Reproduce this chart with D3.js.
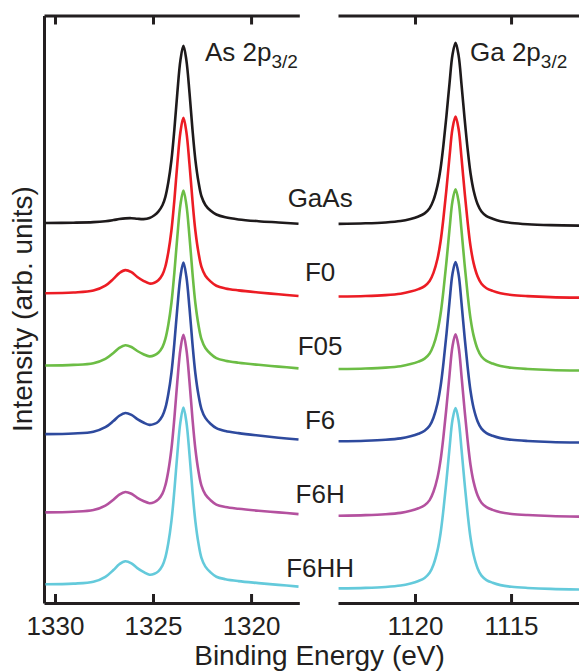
<!DOCTYPE html>
<html>
<head>
<meta charset="utf-8">
<script src="https://cdn.jsdelivr.net/npm/d3@7"></script>
<style>
  body { margin: 0; background: #fff; }
  svg { display: block; }
  text { font-family: "Liberation Sans", Arial, sans-serif; fill: #231f20; }
  .axis path, .axis line { stroke: #231f20; stroke-width: 3; }
</style>
</head>
<body>
<div id="chart"></div>
<script>
// series names and colours
var samples = ["GaAs", "F0", "F05", "F6", "F6H", "F6HH"];
var colors = ["#1e1a1b", "#ec1c24", "#6cbd45", "#2e4a9e", "#b4519f", "#64cadb"];

// binding energy grids (eV)
var asEnergy = [1330.49, 1329.06, 1328.04, 1327.43, 1327.02, 1326.72, 1326.41, 1326.10, 1325.80, 1325.49,
  1325.18, 1324.93, 1324.73, 1324.52, 1324.37, 1324.22, 1324.06, 1323.91, 1323.76, 1323.60,
  1323.45, 1323.30, 1323.14, 1322.99, 1322.84, 1322.68, 1322.53, 1322.33, 1322.07, 1321.77,
  1321.31, 1320.64, 1319.62, 1318.60, 1317.58];
var gaEnergy = [1123.98, 1122.58, 1121.54, 1120.75, 1120.23, 1119.82, 1119.50, 1119.24, 1119.04, 1118.83,
  1118.67, 1118.52, 1118.36, 1118.20, 1118.05, 1117.89, 1117.73, 1117.58, 1117.42, 1117.26,
  1117.11, 1116.95, 1116.74, 1116.54, 1116.28, 1115.96, 1115.55, 1114.97, 1114.14, 1112.94, 1111.46];

// As 2p3/2 intensity above each curve's own baseline (arb. units)
var asGaAs = [0, 0.16, 0.46, 0.98, 1.63, 2.21, 2.61, 2.71, 2.4, 2.2, 2.8, 4.4, 6.4, 10.0, 14.8, 23.0, 35.6, 53.0, 73.6, 92.2,
  100.2, 92.1, 73.7, 53.1, 35.7, 23.1, 15.1, 10.2, 7.0, 4.8, 3.2, 2.0, 1.0, 0.3, -0.4];
var asF0 = [0, 0.39, 1.46, 4.26, 8.09, 11.35, 13.05, 11.85, 9.19, 7.0, 5.45, 5.95, 7.3, 10.5, 15.1, 23.2, 35.6, 52.8, 73.1, 91.3,
  99.2, 91.2, 72.9, 52.6, 35.3, 22.8, 14.9, 9.9, 6.7, 4.2, 2.7, 1.6, 0.4, -0.6, -1.6];
var asF05 = [0, 0.36, 1.31, 3.77, 7.12, 9.98, 11.49, 10.48, 8.22, 6.41, 5.18, 5.78, 7.2, 10.4, 15.1, 23.1, 35.5, 52.7, 72.9, 91.1,
  99, 91, 72.8, 52.5, 35.2, 22.8, 14.9, 9.9, 6.7, 4.2, 2.7, 1.6, 0.4, -0.6, -1.6];
var asF6 = [0, 0.37, 1.36, 3.92, 7.42, 10.4, 11.97, 10.9, 8.52, 6.59, 5.26, 5.8, 7.1, 10.3, 14.8, 22.7, 34.8, 51.6, 71.4, 89.2,
  97, 89.1, 71.2, 51.3, 34.3, 22.0, 14.2, 9.2, 5.9, 3.4, 1.8, 0.6, -0.8, -2.0, -3.0];
var asF6H = [0, 0.36, 1.31, 3.77, 7.12, 9.98, 11.49, 10.48, 8.22, 6.41, 5.18, 5.8, 7.3, 10.6, 15.3, 23.4, 36.0, 53.4, 74.0, 92.4,
  100.4, 92.3, 73.8, 53.2, 35.8, 23.1, 15.1, 10.1, 6.9, 4.4, 3.0, 2.0, 0.9, 0, -1.0];
var asF6HH = [0, 0.39, 1.46, 4.26, 8.09, 11.35, 13.05, 11.85, 9.19, 7.0, 5.45, 5.95, 7.35, 10.6, 15.25, 23.35, 35.85, 53.2, 73.65, 92.0,
  100, 91.9, 73.5, 53.0, 35.6, 23.0, 15.0, 10.0, 6.8, 4.3, 2.9, 1.8, 0.7, -0.3, -1.3];

// Ga 2p3/2 intensity above each curve's own baseline (arb. units)
var gaGaAs = [0, 0.3, 0.8, 1.6, 2.8, 4.2, 5.9, 8.8, 13.4, 21.6, 31.3, 44.6, 61.5, 79.9, 95.5,
  102.3, 95.1, 78.9, 59.7, 42.2, 28.6, 18.9, 11.1, 7.0, 4.4, 2.9, 1.5, 0.5, -0.2, -0.7, -1.0];
var gaF0 = [0, 0.3, 0.8, 1.6, 2.8, 4.2, 5.9, 8.8, 13.4, 21.4, 31.1, 44.4, 61.1, 79.5, 94.9,
  101.7, 94.6, 78.5, 59.4, 42.1, 28.5, 18.9, 11.3, 7.2, 4.7, 3.2, 1.85, 0.9, 0.26, -0.3, -0.6];
var gaF05 = [0, 0.3, 0.8, 1.6, 2.8, 4.2, 5.9, 8.8, 13.4, 21.4, 31.1, 44.4, 61.1, 79.5, 94.9,
  101.7, 94.6, 78.5, 59.4, 42.1, 28.5, 18.9, 11.2, 7.1, 4.6, 3.1, 1.7, 0.7, 0.05, -0.5, -0.8];
var gaF6 = [0, 0.3, 0.8, 1.6, 2.8, 4.2, 5.9, 8.7, 13.3, 21.3, 31.0, 44.2, 60.9, 79.2, 94.6,
  101.3, 94.2, 78.2, 59.2, 41.9, 28.4, 18.8, 11.2, 7.1, 4.6, 3.1, 1.75, 0.8, 0.15, -0.4, -0.7];
var gaF6H = [0, 0.3, 0.8, 1.6, 2.8, 4.2, 5.9, 8.8, 13.5, 21.6, 31.4, 44.7, 61.6, 80.1, 95.7,
  102.5, 95.4, 79.1, 59.9, 42.4, 28.7, 19.1, 11.4, 7.3, 4.8, 3.3, 1.95, 1.0, 0.35, -0.2, -0.5];
var gaF6HH = [0, 0.3, 0.8, 1.6, 2.8, 4.2, 5.9, 8.8, 13.4, 21.5, 31.2, 44.5, 61.3, 79.7, 95.2,
  102, 94.9, 78.7, 59.6, 42.2, 28.6, 19.0, 11.3, 7.2, 4.7, 3.2, 1.85, 0.9, 0.26, -0.3, -0.6];

// vertical offsets of the stacked curves (arb. units)
var asOffset = [204.3, 164.6, 123.7, 84.9, 40.7, 0];
var gaOffset = [203.8, 162.7, 121.7, 80.9, 38.8, -2.3];

// axis ticks
var asTicks = [1330, 1325, 1320];
var gaTicks = [1120, 1115];

var asData = [asGaAs, asF0, asF05, asF6, asF6H, asF6HH];
var gaData = [gaGaAs, gaF0, gaF05, gaF6, gaF6H, gaF6HH];

var svgWidth = 579;
var svgHeight = 671;

var svg = d3.select("#chart")
  .append("svg")
  .attr("width", svgWidth)
  .attr("height", svgHeight);

// plot box
var plotTop = 15.5;
var plotBottom = 603;

// two x scales, binding energy runs right to left
var xAs = d3.scaleLinear()
  .domain([1330.56, 1317.54])
  .range([44, 299.3]);

var xGa = d3.scaleLinear()
  .domain([1124.01, 1111.15])
  .range([338, 585]);

var y = d3.scaleLinear()
  .domain([-10.56, 321.6])
  .range([plotBottom, plotTop]);

// axes
function drawAxes(xScale, ticks, showLeft) {
  svg.append("g")
    .attr("class", "axis")
    .attr("transform", `translate(0, ${plotBottom})`)
    .call(d3.axisBottom(xScale).tickValues(ticks).tickSizeInner(-9).tickSizeOuter(0)
      .tickPadding(14).tickFormat(d3.format("d")))
    .call(g => g.selectAll("text").attr("font-size", "26px").attr("fill", "#231f20"));

  svg.append("g")
    .attr("class", "axis")
    .attr("transform", `translate(0, ${plotTop})`)
    .call(d3.axisTop(xScale).tickValues(ticks).tickSizeInner(-9).tickSizeOuter(0).tickFormat(""));

  if (showLeft) {
    svg.append("g")
      .attr("class", "axis")
      .attr("transform", `translate(${xScale.range()[0]}, 0)`)
      .call(d3.axisLeft(y).tickValues([]).tickSizeOuter(0));
  }
}

drawAxes(xAs, asTicks, true);
drawAxes(xGa, gaTicks, false);

// draw the stacked spectra
function drawSpectra(xScale, energy, data, offsets) {
  var line = d3.line()
    .x(d => xScale(d[0]))
    .y(d => y(d[1]))
    .curve(d3.curveCatmullRom.alpha(0.5));

  data.forEach(function(values, i) {
    var pts = energy.map((e, j) => [e, values[j] + offsets[i]]);
    svg.append("path")
      .datum(pts)
      .attr("d", line)
      .attr("fill", "none")
      .attr("stroke", colors[i])
      .attr("stroke-width", 2.6)
      .attr("stroke-linejoin", "round");
  });
}

drawSpectra(xAs, asEnergy, asData, asOffset);
drawSpectra(xGa, gaEnergy, gaData, gaOffset);

// sample labels in the gap between panels, evenly stacked
var gapMid = (xAs.range()[1] + xGa.range()[0]) / 2 + 1.5;
var labelY = d3.scaleLinear().domain([0, samples.length - 1]).range([206.7, 576.7]);
svg.selectAll(".sample")
  .data(samples)
  .enter()
  .append("text")
  .attr("class", "sample")
  .attr("x", gapMid)
  .attr("y", (d, i) => labelY(i))
  .attr("text-anchor", "middle")
  .attr("font-size", "26px")
  .text(d => d);

// peak titles
function peakTitle(x, name) {
  var t = svg.append("text")
    .attr("x", x)
    .attr("y", 61)
    .attr("font-size", "26px");
  t.append("tspan").text(name + " 2p");
  t.append("tspan").attr("font-size", "19px").attr("dy", 7).text("3/2");
}
peakTitle(205, "As");
peakTitle(470, "Ga");

// axis titles
svg.append("text")
  .attr("transform", "translate(32, 309) rotate(-90)")
  .attr("text-anchor", "middle")
  .attr("font-size", "28px")
  .text("Intensity (arb. units)");

svg.append("text")
  .attr("x", 319.5)
  .attr("y", 665)
  .attr("text-anchor", "middle")
  .attr("font-size", "28px")
  .text("Binding Energy (eV)");
</script>
</body>
</html>
